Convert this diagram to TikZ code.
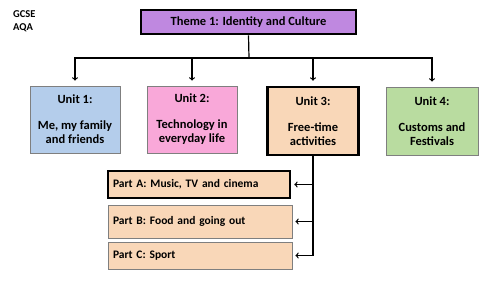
\documentclass[tikz,border=0pt]{standalone}
\usepackage{fontspec}
\setmainfont{Carlito}
\definecolor{themepurple}{HTML}{BF88E0}
\definecolor{unitblue}{HTML}{B4CDEB}
\definecolor{unitpink}{HTML}{F9A8D9}
\definecolor{unitpeach}{HTML}{F9D7B8}
\definecolor{unitgreen}{HTML}{B9DCA0}
\definecolor{edgegray}{HTML}{7F7F7F}
\begin{document}
\begin{tikzpicture}[
  x=1pt, y=-1pt,
  font=\bfseries\fontsize{12.5}{14}\selectfont,
  unitbox/.style={draw=edgegray, line width=0.8pt, align=center, minimum width=90pt, minimum height=67pt, inner sep=2pt},
  thickbox/.style={draw=black, line width=2.6pt},
  partbox/.style={draw=edgegray, line width=0.8pt, fill=unitpeach, align=left, text width=174pt, minimum height=33pt, inner sep=5pt, font=\bfseries\fontsize{11.5}{14}\selectfont},
  arrow/.style={->, line width=1.2pt, shorten >=5pt}
]
\useasboundingbox (0,0) rectangle (500,281);
\node[align=left, anchor=north west, inner sep=0pt, font=\bfseries\fontsize{10.5}{13}\selectfont] (exam) at (13,10) {GCSE\\AQA};
\node[thickbox, fill=themepurple, minimum width=215pt, minimum height=24pt, font=\bfseries\fontsize{12.5}{14}\selectfont] (theme) at (248.5,22) {Theme 1: Identity and Culture};
\node[unitbox, fill=unitblue] (u1) at (75,119.5) {Unit 1:\\[12pt]Me, my family\\and friends};
\node[unitbox, fill=unitpink] (u2) at (192,119.5) {Unit 2:\\[12pt]Technology in\\everyday life};
\node[unitbox, thickbox, fill=unitpeach, minimum width=91pt, minimum height=68pt] (u3) at (313,121) {Unit 3:\\[12pt]Free-time\\activities};
\node[unitbox, fill=unitgreen, minimum width=92pt, minimum height=68pt] (u4) at (432,121) {Unit 4:\\[12pt]Customs and\\Festivals};
\node[partbox, thickbox, minimum height=27pt, text width=172pt] (pa) at (199,184.5) {Part A: Music, TV and cinema};
\node[partbox] (pb) at (200,221.5) {Part B: Food and going out};
\node[partbox, minimum height=27pt] (pc) at (200,255.5) {Part C: Sport};
\coordinate (bus) at (249,58);
\draw[line width=1.2pt] (theme.south) -- (bus);
\draw[arrow] (bus) -| (u1.north);
\draw[arrow] (bus) -| (u2.north);
\draw[arrow] (bus) -| (u3.north);
\draw[arrow] (bus) -| (u4.north);
\draw[arrow, shorten >=3pt] (u3.south) |- (pa.east);
\draw[arrow, shorten >=3pt] (u3.south) |- (pb.east);
\draw[arrow, shorten >=3pt] (u3.south) |- (pc.east);
\end{tikzpicture}
\end{document}
